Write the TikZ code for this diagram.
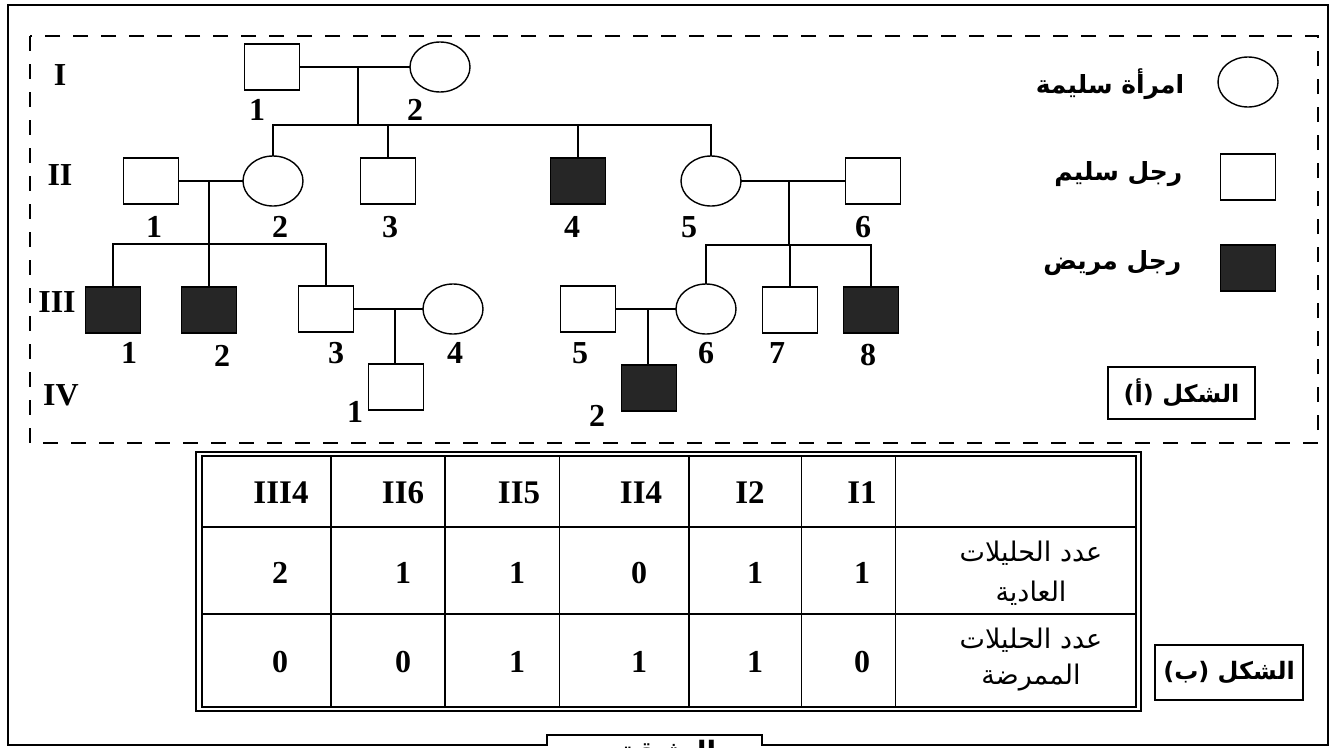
\documentclass[tikz,border=0pt]{standalone}
\usepackage{fontspec}
\setmainfont{Liberation Serif}
\newfontfamily\arabicfont[Script=Arabic]{DejaVu Sans}
\TeXXeTstate=1
\newcommand{\rtl}[1]{{\arabicfont\beginR #1\endR}}
\usetikzlibrary{shapes.geometric}

\begin{document}
\begin{tikzpicture}[x=1pt,y=-1pt,line width=1.4pt,
  male/.style={draw,rectangle,minimum width=55pt,minimum height=46pt,inner sep=0pt,outer sep=0pt},
  sick/.style={male,fill=black!85},
  female/.style={draw,ellipse,minimum width=60pt,minimum height=50pt,inner sep=0pt,outer sep=0pt},
  num/.style={font=\fontsize{32}{32}\selectfont\bfseries,inner sep=0pt},
  hdr/.style={font=\fontsize{33}{33}\selectfont\bfseries,inner sep=0pt},
  lgd/.style={font=\fontsize{25}{25}\selectfont\bfseries,inner sep=0pt},
  tagtext/.style={font=\fontsize{24}{24}\selectfont\bfseries},
  cell/.style={font=\fontsize{27}{27}\selectfont,inner sep=0pt},
  tag/.style={draw,line width=1.2pt,inner sep=0pt,outer sep=0pt},
  frameline/.style={line width=1.5pt},
  dashframe/.style={line width=2.6pt,dash pattern=on 15pt off 13pt},
  grid/.style={line width=1.2pt}]

\useasboundingbox (0,0) rectangle (1332,747);

% outer frame with the tab at the bottom
\draw[frameline] (8,5) -- (1328,5) -- (1328,745) -- (762,745) -- (762,735)
  -- (547,735) -- (547,745) -- (8,745) -- cycle;
\node[font=\fontsize{28}{28}\selectfont\bfseries,anchor=base,inner sep=0pt] (doc) at (668,761) {\rtl{الوثيقة}};

% dashed frame around the pedigree
\draw[dashframe] (30,36) rectangle (1318,443);

% generation numerals
\node[num] (gI)   at (60,75)  {I};
\node[num] (gII)  at (60,175) {II};
\node[num] (gIII) at (57,302) {III};
\node[num] (gIV)  at (61,395) {IV};

% generation I
\node[male]   (I1) at (272,67) {};
\node[female] (I2) at (440,67) {};
% generation II
\node[male]   (II1) at (151,181) {};
\node[female] (II2) at (273,181) {};
\node[male]   (II3) at (388,181) {};
\node[sick]   (II4) at (578,181) {};
\node[female] (II5) at (711,181) {};
\node[male]   (II6) at (873,181) {};
% generation III
\node[sick]   (III1) at (113,310) {};
\node[sick]   (III2) at (209,310) {};
\node[male]   (III3) at (326,309) {};
\node[female] (III4) at (453,309) {};
\node[male]   (III5) at (588,309) {};
\node[female] (III6) at (706,309) {};
\node[male]   (III7) at (790,310) {};
\node[sick]   (III8) at (871,310) {};
% generation IV
\node[male]   (IV1) at (396,387) {};
\node[sick]   (IV2) at (649,388) {};

% couples and sibships
\coordinate (m1) at (358,67);  \coordinate (s1) at (358,125);
\coordinate (m2) at (209,181); \coordinate (s2) at (209,244);
\coordinate (m3) at (789,181); \coordinate (s3) at (789,245);
\coordinate (m4) at (395,309);
\coordinate (m5) at (648,309);

\draw (I1.east) -- (I2.west);
\draw (m1) -- (s1);
\draw (II2.north) -- (II2.north |- s1) -- (II5.north |- s1) -- (II5.north);
\draw (II3.north) -- (II3.north |- s1);
\draw (II4.north) -- (II4.north |- s1);

\draw (II1.east) -- (II2.west);
\draw (m2) -- (s2);
\draw (III1.north) -- (III1.north |- s2) -- (III3.north |- s2) -- (III3.north);
\draw (III2.north) -- (III2.north |- s2);

\draw (II5.east) -- (II6.west);
\draw (m3) -- (s3);
\draw (III6.north) -- (III6.north |- s3) -- (III8.north |- s3) -- (III8.north);
\draw (III7.north) -- (III7.north |- s3);

\draw (III3.east) -- (III4.west);
\draw (m4) -- (IV1.north -| m4);
\draw (III5.east) -- (III6.west);
\draw (m5) -- (IV2.north -| m5);

% individual numbers
\node[num] (nI1) at (257,110) {1};
\node[num] (nI2) at (415,110) {2};
\node[num] (nII1) at (154,227) {1};
\node[num] (nII2) at (280,227) {2};
\node[num] (nII3) at (390,227) {3};
\node[num] (nII4) at (572,227) {4};
\node[num] (nII5) at (689,227) {5};
\node[num] (nII6) at (863,227) {6};
\node[num] (nIII1) at (129,353) {1};
\node[num] (nIII2) at (222,356) {2};
\node[num] (nIII3) at (336,353) {3};
\node[num] (nIII4) at (455,353) {4};
\node[num] (nIII5) at (580,353) {5};
\node[num] (nIII6) at (706,353) {6};
\node[num] (nIII7) at (777,353) {7};
\node[num] (nIII8) at (868,355) {8};
\node[num] (nIV1) at (355,412) {1};
\node[num] (nIV2) at (597,416) {2};

% key
\node[female] (kf) at (1248,82) {};
\node[male]   (km) at (1248,177) {};
\node[sick]   (ks) at (1248,268) {};
\node[lgd,anchor=east] (tf) at (1185,84)  {\rtl{امرأة سليمة}};
\node[lgd,anchor=east] (tm) at (1183,174) {\rtl{رجل سليم}};
\node[lgd,anchor=east] (ts) at (1182,263) {\rtl{رجل مريض}};
\node[tag,tagtext,minimum width=147pt,minimum height=52pt] (figA) at (1181.5,393) {\rtl{الشكل (أ)}};

% allele table
\draw[grid] (196,452) rectangle (1141,711);
\draw[grid] (202,456) rectangle (1136,707);
\foreach \x in {331,445,559.5,689,801.5,895.5}
  \draw[grid] (\x,456) -- (\x,707);
\foreach \y in {527,614}
  \draw[grid] (202,\y) -- (1136,\y);

\node[hdr] (h1) at (281,493) {III4};
\node[hdr] (h2) at (403,493) {II6};
\node[hdr] (h3) at (519,493) {II5};
\node[hdr] (h4) at (641,493) {II4};
\node[hdr] (h5) at (750,493) {I2};
\node[hdr] (h6) at (862,493) {I1};

\node[num] (a1) at (280,573) {2};
\node[num] (a2) at (403,573) {1};
\node[num] (a3) at (517,573) {1};
\node[num] (a4) at (639,573) {0};
\node[num] (a5) at (755,573) {1};
\node[num] (a6) at (862,573) {1};

\node[num] (b1) at (280,662) {0};
\node[num] (b2) at (403,662) {0};
\node[num] (b3) at (517,662) {1};
\node[num] (b4) at (639,662) {1};
\node[num] (b5) at (755,662) {1};
\node[num] (b6) at (862,662) {0};

\node[cell] (r1a) at (1031,553) {\rtl{عدد الحليلات}};
\node[cell] (r1b) at (1031,593) {\rtl{العادية}};
\node[cell] (r2a) at (1031,640) {\rtl{عدد الحليلات}};
\node[cell] (r2b) at (1031,678) {\rtl{الممرضة}};

\node[tag,tagtext,minimum width=148pt,minimum height=55pt] (figB) at (1229,672.5) {\rtl{الشكل (ب)}};
\end{tikzpicture}
\end{document}
